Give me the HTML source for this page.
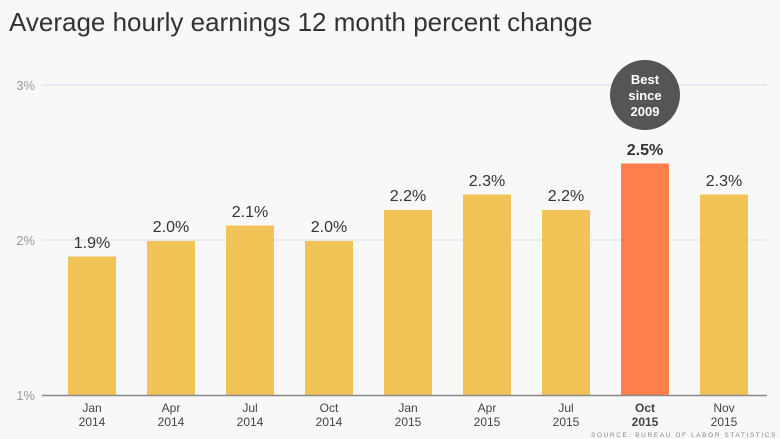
<!DOCTYPE html>
<html><head><style>
body{margin:0;background:#f8f8f8;}
svg{display:block;font-family:"Liberation Sans",Arial,sans-serif;}
</style></head><body>
<svg width="780" height="439" viewBox="0 0 780 439">
<rect width="780" height="439" fill="#f8f8f8"/>
<text x="9" y="31" font-size="26" fill="#333">Average hourly earnings 12 month percent change</text>
<line x1="42" y1="85" x2="767" y2="85" stroke="#dde3ea" stroke-width="1.2"/>
<line x1="42" y1="240" x2="767" y2="240" stroke="#dde3ea" stroke-width="1.2"/>
<g font-size="13" fill="#999" text-anchor="end">
<text x="35" y="90">3%</text><text x="35" y="245">2%</text><text x="35" y="400">1%</text>
</g>
<g fill="#f2c356">
<rect x="68" y="256.5" width="48" height="139"/>
<rect x="147" y="241" width="48" height="154.5"/>
<rect x="226" y="225.5" width="48" height="170"/>
<rect x="305" y="241" width="48" height="154.5"/>
<rect x="384" y="210" width="48" height="185.5"/>
<rect x="463" y="194.5" width="48" height="201"/>
<rect x="542" y="210" width="48" height="185.5"/>
<rect x="700" y="194.5" width="48" height="201"/>
</g>
<rect x="621" y="163.5" width="48" height="232" fill="#ff7f4c"/>
<line x1="42" y1="395.5" x2="767" y2="395.5" stroke="#8a8a8a" stroke-width="1.5"/>
<g font-size="16" fill="#333" text-anchor="middle">
<text x="92" y="248">1.9%</text>
<text x="171" y="232">2.0%</text>
<text x="250" y="217">2.1%</text>
<text x="329" y="232">2.0%</text>
<text x="408" y="201">2.2%</text>
<text x="487" y="186">2.3%</text>
<text x="566" y="201">2.2%</text>
<text x="645" y="155" font-weight="bold">2.5%</text>
<text x="724" y="186">2.3%</text>
</g>
<g font-size="12" fill="#444" text-anchor="middle">
<text x="92" y="412">Jan</text><text x="92" y="426">2014</text>
<text x="171" y="412">Apr</text><text x="171" y="426">2014</text>
<text x="250" y="412">Jul</text><text x="250" y="426">2014</text>
<text x="329" y="412">Oct</text><text x="329" y="426">2014</text>
<text x="408" y="412">Jan</text><text x="408" y="426">2015</text>
<text x="487" y="412">Apr</text><text x="487" y="426">2015</text>
<text x="566" y="412">Jul</text><text x="566" y="426">2015</text>
<text x="645" y="412" font-weight="bold">Oct</text><text x="645" y="426" font-weight="bold">2015</text>
<text x="724" y="412">Nov</text><text x="724" y="426">2015</text>
</g>
<circle cx="645" cy="95" r="35" fill="#555"/>
<g font-size="13" fill="#fff" text-anchor="middle" font-weight="bold">
<text x="645" y="84">Best</text><text x="645" y="100">since</text><text x="645" y="116">2009</text>
</g>
<text x="777" y="437" font-size="6.5" fill="#888" text-anchor="end" letter-spacing="1.6">SOURCE: BUREAU OF LABOR STATISTICS</text>
</svg>
</body></html>
